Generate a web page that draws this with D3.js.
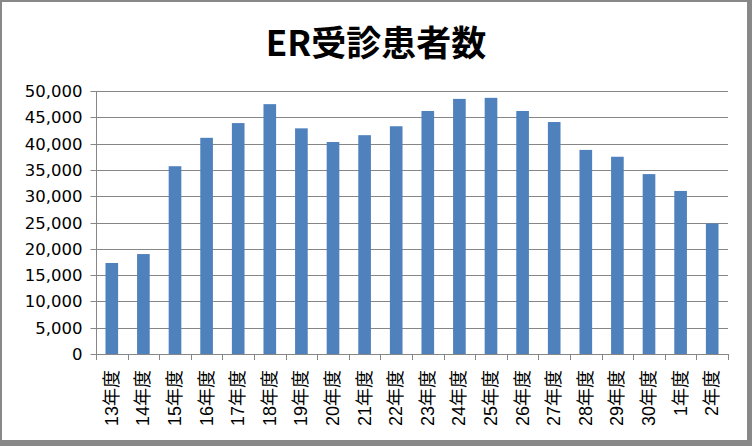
<!DOCTYPE html>
<html><head><meta charset="utf-8">
<script src="https://cdn.jsdelivr.net/npm/d3@7"></script>
<style>body{margin:0;background:#fff}svg{display:block}</style>
</head><body>
<script>
const title = "ER受診患者数";
const categories = ["13年度","14年度","15年度","16年度","17年度","18年度","19年度","20年度","21年度","22年度","23年度","24年度","25年度","26年度","27年度","28年度","29年度","30年度","1年度","2年度"];
const patients = [17300,19000,35700,41100,43900,47500,42900,40300,41600,43300,46200,48500,48700,46200,44100,38800,37500,34200,31000,24800];
const yTicks = [0,5000,10000,15000,20000,25000,30000,35000,40000,45000,50000];

const W = 752, H = 446;
const svg = d3.select("body").append("svg").attr("width", W).attr("height", H);
svg.append("rect").attr("width", W).attr("height", H).attr("fill", "#888888");
svg.append("rect").attr("x", 2).attr("y", 2).attr("width", 745).attr("height", 438).attr("fill", "#ffffff");

const m = {left: 96, right: 728, top: 91, bottom: 354};
const x = d3.scaleBand().domain(categories).range([m.left, m.right]).paddingInner(0.6).paddingOuter(0.3);
const y = d3.scaleLinear().domain([0, 50000]).range([m.bottom, m.top]);
const gridColor = "#868686";

// gridlines
svg.append("g").selectAll("line").data(yTicks.filter(d => d > 0)).join("line")
  .attr("x1", m.left).attr("x2", m.right)
  .attr("y1", d => Math.round(y(d)) + 0.5).attr("y2", d => Math.round(y(d)) + 0.5)
  .attr("stroke", gridColor).attr("stroke-width", 1);

// bars
svg.append("g").selectAll("rect").data(patients).join("rect")
  .attr("x", (d, i) => x(categories[i]))
  .attr("width", x.bandwidth())
  .attr("y", d => y(d))
  .attr("height", d => y(0) - y(d))
  .attr("fill", "#4f81bd");

// y axis
const yAxis = d3.axisLeft(y).tickValues(yTicks).tickSize(6).tickPadding(8)
  .tickFormat(d3.format(","));
const gy = svg.append("g").attr("transform", `translate(${m.left + 0.5},0)`).call(yAxis);
gy.select(".domain").attr("stroke", gridColor).attr("d", `M0,${m.top}V${m.bottom}`);
gy.selectAll(".tick line").attr("stroke", gridColor);
gy.selectAll(".tick").attr("transform", d => `translate(0,${Math.round(y(d)) + 0.5})`);
gy.selectAll("text").attr("font-family", "'DejaVu Sans', sans-serif").attr("font-size", "16.5px").attr("fill", "#000");

// x axis
const xa = svg.append("g");
xa.append("line").attr("x1", m.left).attr("x2", m.right).attr("y1", m.bottom + 0.5).attr("y2", m.bottom + 0.5).attr("stroke", gridColor);
const bounds = categories.map((c, i) => m.left + (m.right - m.left) * i / categories.length).concat([m.right]);
xa.selectAll("line.tk").data(bounds).join("line").attr("class", "tk")
  .attr("x1", d => Math.round(d) + 0.5).attr("x2", d => Math.round(d) + 0.5)
  .attr("y1", m.bottom).attr("y2", m.bottom + 6).attr("stroke", gridColor);
xa.selectAll("text").data(categories).join("text")
  .attr("transform", d => `translate(${x(d) + x.bandwidth() / 2 + 6},${m.bottom + 16}) rotate(-90)`)
  .attr("text-anchor", "end")
  .attr("font-family", "'Liberation Sans', 'Noto Sans CJK JP', sans-serif")
  .attr("font-size", "18px").attr("fill", "#000")
  .text(d => d);

// title
svg.append("text").attr("x", 376).attr("y", 56).attr("text-anchor", "middle")
  .attr("font-family", "'Noto Sans CJK JP', sans-serif").attr("font-weight", "bold")
  .attr("font-size", "35px").attr("fill", "#000").text(title);
</script>
</body></html>
